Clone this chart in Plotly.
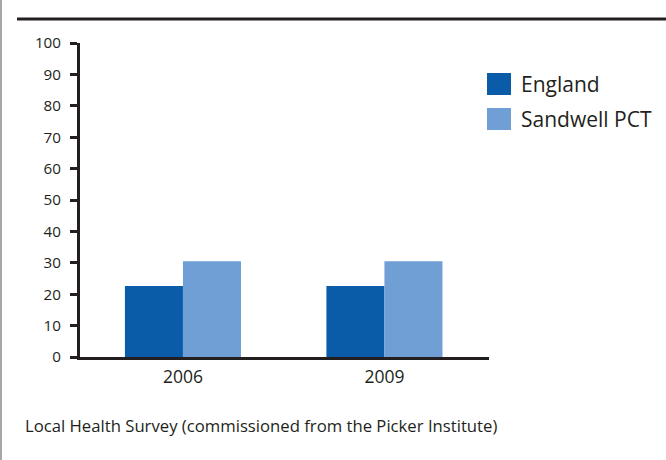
import plotly.graph_objects as go

years = ["2006", "2009"]
series_names = ["England", "Sandwell PCT"]
england = [22.6, 22.6]
sandwell = [30.5, 30.5]
series_values = [england, sandwell]
colors = ["#0a5ca8", "#6f9fd4"]
y_ticks = [0, 10, 20, 30, 40, 50, 60, 70, 80, 90, 100]
source_text = "Local Health Survey (commissioned from the Picker Institute)"

W, H = 666, 460
L, R, T, B = 80, 177, 43, 103
PW, PH = W - L - R, H - T - B
ink = "#231f20"
font = "Open Sans"


def px(x):
    return (x - L) / PW


def py(y):
    return (H - B - y) / PH


fig = go.Figure()
for name, vals, col in zip(series_names, series_values, colors):
    fig.add_trace(go.Bar(x=years, y=vals, name=name, marker=dict(color=col, line=dict(width=0)),
                         showlegend=False))

shapes = [
    dict(type="line", xref="paper", yref="paper", x0=px(17), x1=px(670), y0=py(19), y1=py(19),
         line=dict(color=ink, width=3)),
    dict(type="line", xref="paper", yref="paper", x0=px(1), x1=px(1), y0=py(470), y1=py(-5),
         line=dict(color="#8a8a8a", width=1.5)),
]
annotations = [
    dict(text=source_text, xref="paper", yref="paper", x=px(23), y=py(425), xanchor="left",
         yanchor="middle", showarrow=False, font=dict(family=font, size=16.7, color=ink)),
]
leg_y = [84, 119]
for i, (name, col) in enumerate(zip(series_names, colors)):
    cy = leg_y[i]
    shapes.append(dict(type="rect", xref="paper", yref="paper", x0=px(487), x1=px(511),
                       y0=py(cy - 11), y1=py(cy + 11), fillcolor=col, line=dict(width=0)))
    annotations.append(dict(text=name, xref="paper", yref="paper", x=px(519), y=py(cy),
                            xanchor="left", yanchor="middle", showarrow=False,
                            font=dict(family=font, size=21, color=ink)))

fig.update_layout(
    width=W, height=H,
    margin=dict(l=L, r=R, t=T, b=B, pad=0),
    paper_bgcolor="white", plot_bgcolor="white",
    barmode="group", bargap=0.424, bargroupgap=0,
    shapes=shapes, annotations=annotations,
    font=dict(family=font, color=ink),
    xaxis=dict(range=[-0.511, 1.519], showline=True, linecolor=ink, linewidth=3, ticks="",
               showgrid=False, zeroline=False, tickfont=dict(size=17.5, color=ink),
               ticklabelstandoff=2),
    yaxis=dict(range=[0, 100], tickvals=y_ticks, showline=True, linecolor=ink, linewidth=3,
               ticks="outside", ticklen=7, tickwidth=2.5, tickcolor=ink, showgrid=False,
               zeroline=False, tickfont=dict(size=15.2, color=ink), ticklabelstandoff=6),
)

fig.write_html("out.html")
